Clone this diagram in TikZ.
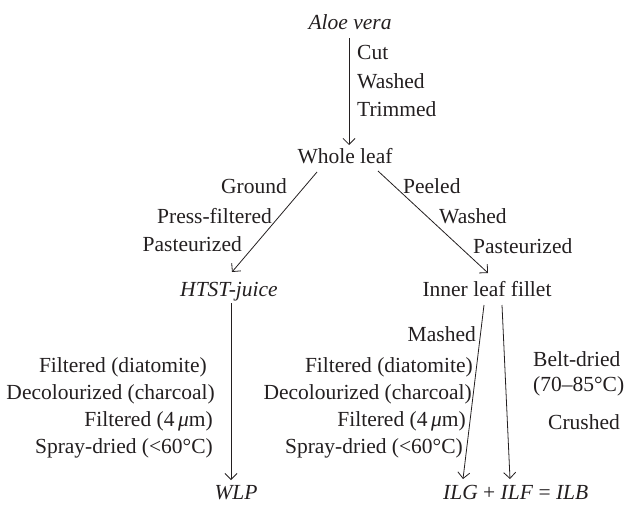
\documentclass[tikz,border=0pt]{standalone}
\usepackage{fontspec}
\setmainfont{Liberation Serif}
\newfontfamily\diagfont{Liberation Serif}
\usetikzlibrary{arrows.meta,calc}
\definecolor{ink}{RGB}{35,31,32}
\tikzset{
  lbl/.style={inner sep=0pt, text=ink, font=\diagfont\fontsize{21.5}{25}\selectfont},
  lblw/.style={lbl, anchor=base west},
  lble/.style={lbl, anchor=base east},
  lblc/.style={lbl, anchor=base},
  arr/.style={draw=ink, line width=0.8pt, -{Straight Barb[length=6pt,width=12pt,line width=0.8pt]}}
}
\begin{document}
\begin{tikzpicture}[x=1pt,y=-1pt]
\useasboundingbox (0,0) rectangle (627,506);
% main nodes
\node[lblc] (A) at (350,29) {\itshape Aloe vera};
\node[lblc] (W) at (345,163) {Whole leaf};
\node[lblc] (H) at (229,296) {\itshape HTST-juice};
\node[lblc] (I) at (487,296) {Inner leaf fillet};
\node[lblc] (P) at (236,499) {\itshape WLP};
\node[lblw] (B) at (443,499) {\itshape ILG\/ \upshape + \itshape ILF\/ \upshape = \itshape ILB};
% labels top
\node[lblw] (l1) at (357,59) {Cut};
\node[lblw] (l2) at (357,88) {Washed};
\node[lblw] (l3) at (357,116) {Trimmed};
% left diagonal labels
\node[lble] (g1) at (287,193) {Ground};
\node[lble] (g2) at (272,223) {Press-filtered};
\node[lble] (g3) at (242,251) {Pasteurized};
% right diagonal labels
\node[lblw] (p1) at (403,193) {Peeled};
\node[lblw] (p2) at (439,223) {Washed};
\node[lblw] (p3) at (473,253) {Pasteurized};
% left column
\node[lble] (c1) at (207,372) {Filtered (diatomite)};
\node[lble] (c2) at (215,399) {Decolourized (charcoal)};
\node[lble] (c3) at (213,426) {Filtered (4\,{\itshape μ}m)};
\node[lble] (c4) at (213,453) {Spray-dried (<60°C)};
% middle column
\node[lble] (m0) at (476,341) {Mashed};
\node[lble] (m1) at (473,372) {Filtered (diatomite)};
\node[lble] (m2) at (472,399) {Decolourized (charcoal)};
\node[lble] (m3) at (466,426) {Filtered (4\,{\itshape μ}m)};
\node[lble] (m4) at (463,453) {Spray-dried (<60°C)};
% right column
\node[lblw] (r1) at (533,366) {Belt-dried};
\node[lblw] (r2) at (533,391) {(70–85°C)};
\node[lblw] (r3) at (548,429) {Crushed};
% connectors
\draw[arr] ($(A.base)+(-1,9)$) -- ($(W.base)+(4,-18)$);
\draw[arr] ($(W.base)+(-28,9)$) -- ($(H.base)+(3,-24)$);
\draw[arr] ($(W.base)+(33,8)$) -- ($(I.base)+(1,-23)$);
\draw[arr] ($(H.base)+(2,7)$) -- ($(P.base)+(-5,-19)$);
\draw[arr] ($(I.base)+(-3,9)$) -- ($(B.base west)+(20,-20)$);
\draw[arr] ($(I.base)+(15,9)$) -- ($(B.base west)+(67,-20)$);
\end{tikzpicture}
\end{document}
